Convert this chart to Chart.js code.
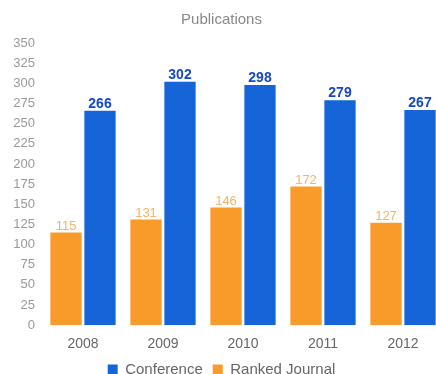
<!DOCTYPE html>
<html>
<head>
<meta charset="utf-8">
<script src="https://cdn.jsdelivr.net/npm/chart.js@4/dist/chart.umd.min.js"></script>
<style>
html,body{margin:0;padding:0;overflow:hidden;background:#fff;}
#wrap{width:436px;height:374px;overflow:hidden;position:relative;}
</style>
</head>
<body>
<div id="wrap"><canvas id="c" width="484" height="387"></canvas></div>
<script>
const categories = ['2008', '2009', '2010', '2011', '2012'];
const conference = [266, 302, 298, 279, 267];
const rankedJournal = [115, 131, 146, 172, 127];
const yTicks = [0, 25, 50, 75, 100, 125, 150, 175, 200, 225, 250, 275, 300, 325, 350];

const FONT = '"Liberation Sans", Arial, sans-serif';

const labelPlugin = {
  id: 'valueLabels',
  afterDatasetsDraw(chart) {
    const ctx = chart.ctx;
    chart.data.datasets.forEach((ds, i) => {
      const meta = chart.getDatasetMeta(i);
      meta.data.forEach((bar, j) => {
        ctx.save();
        ctx.font = ds.labelFont;
        ctx.fillStyle = ds.labelColor;
        ctx.textAlign = 'center';
        ctx.textBaseline = 'bottom';
        ctx.fillText(String(ds.data[j]), bar.x, bar.y);
        ctx.restore();
      });
    });
  }
};

new Chart(document.getElementById('c'), {
  type: 'bar',
  data: {
    labels: categories,
    datasets: [
      {
        label: 'Ranked Journal',
        data: rankedJournal,
        backgroundColor: '#f99b2b',
        labelColor: '#f5b366',
        labelFont: '13px ' + FONT
      },
      {
        label: 'Conference',
        data: conference,
        backgroundColor: '#1565d8',
        labelColor: '#1448c8',
        labelFont: 'bold 14px ' + FONT
      }
    ]
  },
  options: {
    responsive: false,
    animation: false,
    layout: { padding: { left: 0, right: 41, top: 0, bottom: 0 } },
    datasets: { bar: { categoryPercentage: 0.85, barPercentage: 0.92 } },
    plugins: {
      title: {
        display: true,
        text: 'Publications',
        color: '#888',
        font: { family: FONT, size: 15, weight: 'normal' },
        padding: { top: 11, bottom: 14 }
      },
      legend: {
        position: 'bottom',
        reverse: true,
        labels: {
          boxWidth: 10,
          boxHeight: 10,
          color: '#666',
          padding: 10,
          font: { family: FONT, size: 15 }
        }
      },
      tooltip: { enabled: false }
    },
    scales: {
      x: {
        afterFit(scale) { scale.height = scale.height - 12; },
        grid: { display: false, drawTicks: false },
        border: { display: false },
        ticks: { color: '#666', padding: 11, font: { family: FONT, size: 14 } }
      },
      y: {
        min: 0,
        max: 350,
        afterBuildTicks(scale) { scale.ticks = yTicks.map(v => ({ value: v })); },
        afterFit(scale) { scale.width = 43; },
        grid: { display: false, drawTicks: false },
        border: { display: false },
        ticks: { color: '#999', padding: 8, font: { family: FONT, size: 13 } }
      }
    }
  },
  plugins: [labelPlugin]
});
</script>
</body>
</html>
